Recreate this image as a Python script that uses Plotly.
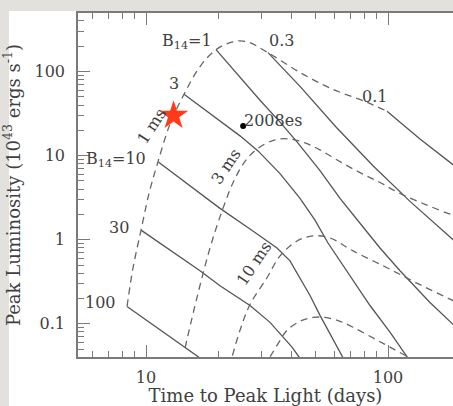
import math
import plotly.graph_objects as go

# ---- constant magnetic field tracks (solid), B14 = B / 1e14 G ----
b100_t = [8.35, 18.74]
b100_L = [0.161, 0.031]

b30_t = [9.54, 12.57, 16.72, 20.22, 26.90, 32.54, 36.82, 40.12, 42.88, 45.40]
b30_L = [1.30, 0.756, 0.428, 0.284, 0.165, 0.104, 0.0693, 0.0528, 0.0403, 0.0307]

b10_t = [11.21, 15.20, 20.22, 26.90, 34.78, 39.36, 43.29, 47.61, 52.36, 58.7, 65.17, 68.35]
b10_L = [8.48, 4.42, 2.36, 1.34, 0.798, 0.561, 0.353, 0.217, 0.126, 0.0693, 0.0403, 0.0307]

b3_t = [14.36, 18.74, 24.46, 29.03, 35.79, 43.29, 49.92, 56.51, 69.66, 84.26, 101.9, 119.8, 128.1]
b3_L = [53.7, 30.4, 17.2, 11.4, 6.12, 3.10, 1.71, 0.914, 0.373, 0.165, 0.0794, 0.0403, 0.0307]

b1_t = [19.47, 24.46, 29.59, 35.79, 42.07, 52.36, 63.35, 76.63, 92.67, 112.1, 126.9, 149.1, 185.6, 208.1]
b1_L = [182.3, 85.2, 45.6, 25.1, 14.6, 6.64, 3.10, 1.57, 0.798, 0.428, 0.292, 0.179, 0.0987, 0.0712]

b03_t = [31.92, 43.29, 60.97, 86.7, 123.3, 185.6, 218.2]
b03_L = [168.0, 66.7, 21.9, 7.60, 2.86, 0.992, 0.660]

b01_t = [99.06, 135.6, 185.6, 218.2]
b01_L = [33.8, 15.8, 7.81, 5.34]

# ---- constant initial spin period tracks (dashed) ----
p1_t = [8.35, 8.84, 9.54, 10.29, 11.21, 12.57, 14.36, 16.72, 19.47, 22.88, 26.15, 31.92, 43.29, 59.27, 81.89, 99.06]
p1_L = [0.161, 0.464, 1.30, 3.55, 8.48, 23.8, 53.7, 114.9, 182.3, 226.4, 226.4, 168.0, 97.6, 61.5, 43.2, 33.8]

p3_t = [14.50, 16.24, 18.39, 20.80, 23.32, 26.15, 29.59, 34.13, 39.36, 45.40, 52.36, 63.35, 76.63, 92.67, 112.1, 142.2, 185.6, 218.2]
p3_L = [0.0514, 0.205, 0.798, 2.36, 5.34, 9.19, 12.7, 15.4, 15.8, 14.2, 11.7, 8.48, 6.28, 4.79, 3.55, 2.64, 1.96, 1.71]

p10_t = [22.03, 22.67, 24.46, 26.90, 31.62, 35.79, 42.07, 48.98, 57.60, 71.68, 99.06, 135.6, 185.6, 218.2]
p10_L = [0.0307, 0.0403, 0.0838, 0.170, 0.353, 0.642, 0.965, 1.11, 1.05, 0.736, 0.464, 0.292, 0.189, 0.152]

p30_t = [30.73, 32.54, 35.45, 38.25, 43.29, 48.98, 54.92, 63.35, 73.05, 90.06, 101.9, 120.9, 142.2]
p30_L = [0.0307, 0.0403, 0.0605, 0.0838, 0.107, 0.119, 0.119, 0.107, 0.0885, 0.0639, 0.0528, 0.0403, 0.0307]

# ---- observed events ----
star_t, star_L = [13.0], [30.0]
sn2008es_t, sn2008es_L = [25.2], [22.5]

# ---- axis ticks ----
x_major = [10, 100]
x_major_text = ["10", "100"]
x_minor = [6, 7, 8, 9, 20, 30, 40, 50, 60, 70, 80, 90, 200]
y_major = [0.1, 1, 10, 100]
y_major_text = ["0.1", "1", "10", "100"]
y_minor = [0.05, 0.06, 0.07, 0.08, 0.09, 0.2, 0.3, 0.4, 0.5, 0.6, 0.7, 0.8, 0.9,
           2, 3, 4, 5, 6, 7, 8, 9, 20, 30, 40, 50, 60, 70, 80, 90, 200, 300, 400, 500]

SOLID = "#555555"
DASH = "#666666"
TEXT = "#404040"
AXIS = "#7a7a7a"
FONT = "DejaVu Serif"

fig = go.Figure()

solid_tracks = [(b100_t, b100_L), (b30_t, b30_L), (b10_t, b10_L), (b3_t, b3_L),
                (b1_t, b1_L), (b03_t, b03_L), (b01_t, b01_L)]
for t, L in solid_tracks:
    fig.add_trace(go.Scatter(x=t, y=L, mode="lines", line=dict(color=SOLID, width=1.3),
                             showlegend=False, hoverinfo="skip"))

dashed_tracks = [(p1_t, p1_L), (p3_t, p3_L), (p10_t, p10_L), (p30_t, p30_L)]
for t, L in dashed_tracks:
    fig.add_trace(go.Scatter(x=t, y=L, mode="lines", line=dict(color=DASH, width=1.3, dash="7px,5px"),
                             line_shape="spline", showlegend=False, hoverinfo="skip"))

fig.add_trace(go.Scatter(x=sn2008es_t, y=sn2008es_L, mode="markers",
                         marker=dict(color="black", size=6), showlegend=False))
fig.add_trace(go.Scatter(x=star_t, y=star_L, mode="markers",
                         marker=dict(symbol="star", color="#ff3b1c", size=22, line=dict(width=0)),
                         showlegend=False))

lab_font = dict(family=FONT, size=16, color=TEXT)
lg = math.log10


def lab(text, x, y, xanchor, xshift, yshift, angle=0):
    fig.add_annotation(x=lg(x), y=lg(y), xref="x", yref="y", text=text, showarrow=False,
                       xanchor=xanchor, yanchor="middle", xshift=xshift, yshift=yshift,
                       textangle=angle, font=lab_font)


# field labels at the start of each solid track
lab("B<sub>14</sub>=1", b1_t[0], b1_L[0], "right", -2, 8)
lab("0.3", b03_t[0], b03_L[0], "left", -1, 12)
lab("0.1", b01_t[0], b01_L[0], "right", 2, 15)
lab("3", b3_t[0], b3_L[0], "right", -3, 11)
lab("B<sub>14</sub>=10", b10_t[0], b10_L[0], "right", -10, 2)
lab("30", b30_t[0], b30_L[0], "right", -10, 3)
lab("100", b100_t[0], b100_L[0], "right", -9, 4)
lab("2008es", sn2008es_t[0], sn2008es_L[0], "left", -1, 6)

# spin period labels along the dashed tracks
lab("1 ms", 10.49, 22.5, "center", 0, 0, -57)
lab("3 ms", 21.41, 7.40, "center", 0, 0, -56)
lab("10 ms", 27.95, 0.517, "center", 0, 0, -56)

tick_font = dict(family=FONT, size=16, color=TEXT)
title_font = dict(family=FONT, size=18, color=TEXT)

fig.update_layout(
    width=453, height=406,
    margin=dict(l=78, r=0, t=13, b=46),
    paper_bgcolor="#e2e1dd",
    plot_bgcolor="white",
    shapes=[dict(type="rect", xref="paper", yref="paper", x0=-0.184, x1=1.05, y0=-0.3, y1=1.0058,
                 fillcolor="white", line=dict(width=0), layer="below")],
    xaxis=dict(type="log", range=[0.719, 2.2686], showgrid=False, zeroline=False,
               showline=True, linecolor=AXIS, linewidth=1.5, mirror="ticks",
               ticks="inside", ticklen=12, tickwidth=1.3, tickcolor=AXIS,
               tickvals=x_major, ticktext=x_major_text, tickfont=tick_font,
               ticklabelstandoff=5,
               minor=dict(tickvals=x_minor, ticks="inside", ticklen=6, tickwidth=1.2,
                          tickcolor=AXIS, showgrid=False),
               title=dict(text="Time to Peak Light (days)", font=title_font, standoff=6)),
    yaxis=dict(type="log", range=[-1.395, 2.697], showgrid=False, zeroline=False,
               showline=True, linecolor=AXIS, linewidth=1.5, mirror=False,
               ticks="inside", ticklen=12, tickwidth=1.3, tickcolor=AXIS,
               tickvals=y_major, ticktext=y_major_text, tickfont=tick_font,
               ticklabelstandoff=8,
               minor=dict(tickvals=y_minor, ticks="inside", ticklen=6, tickwidth=1.2,
                          tickcolor=AXIS, showgrid=False),
               title=dict(text="Peak Luminosity (10<sup>43</sup> ergs s<sup>-1</sup>)",
                          font=title_font, standoff=10)),
)

fig.write_html("out.html")
